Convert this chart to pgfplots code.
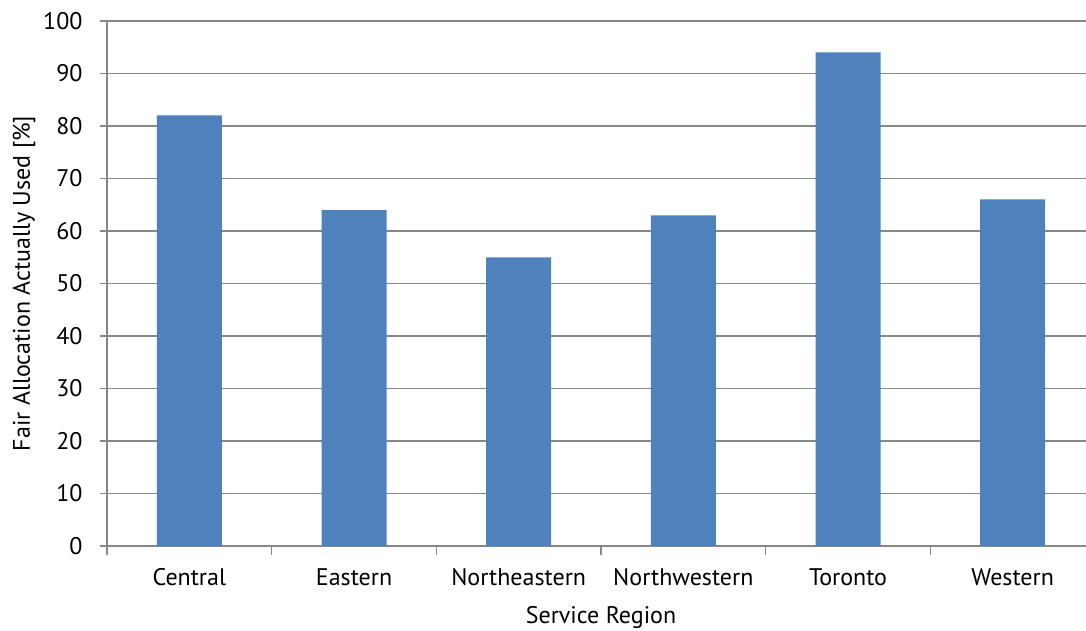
\documentclass[border=0pt]{standalone}
\usepackage{pgfplots}
\pgfplotsset{compat=1.18}
\usepackage{fontspec}
\setmainfont{PT Sans}
\definecolor{barblue}{HTML}{4F81BD}
\definecolor{gridgray}{HTML}{878787}
\begin{document}
\begin{tikzpicture}
\begin{axis}[
  at={(107pt,84pt)}, anchor=south west,
  scale only axis, width=988pt, height=525pt,
  xmin=-0.5, xmax=5.5, ymin=0, ymax=100,
  axis x line*=bottom, axis y line*=left,
  axis line style={gridgray, line width=1.5pt},
  ytick={0,10,...,100},
  ymajorgrids, grid style={gridgray, line width=1.5pt},
  xtick={0,...,5},
  xticklabels={Central,Eastern,Northeastern,Northwestern,Toronto,Western},
  minor xtick={-0.5,0.5,...,5.5},
  tick align=outside,
  major tick length=7pt,
  x tick style={draw=none},
  minor x tick style={draw=gridgray, line width=1.5pt},
  minor tick length=9pt,
  y tick style={gridgray, line width=1.5pt},
  tick label style={font=\fontsize{24}{28}\selectfont},
  /pgf/number format/assume math mode=true,
  xticklabel style={anchor=base, yshift=-32pt},
  yticklabel style={anchor=east, xshift=-14pt},
  xlabel={Service Region},
  ylabel={Fair Allocation Actually Used [\%]},
  label style={font=\fontsize{24}{28}\selectfont},
  xlabel style={at={(axis description cs:0.5,-0.137)}, anchor=center},
  ylabel style={at={(axis description cs:-0.084,0.5)}, anchor=center},
]
\addplot[ybar, bar width=65pt, fill=barblue, draw=none] coordinates {
  (0,82) (1,64) (2,55) (3,63) (4,94) (5,66)
};
\end{axis}
\pgfresetboundingbox
\useasboundingbox (0,0) rectangle (1086pt,630pt);
\end{tikzpicture}
\end{document}
